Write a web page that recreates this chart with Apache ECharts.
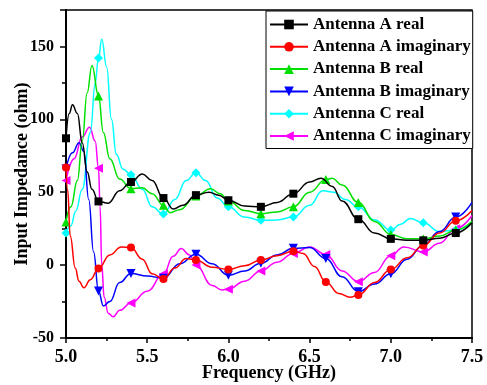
<!DOCTYPE html>
<html>
<head>
<meta charset="utf-8">
<script src="https://cdn.jsdelivr.net/npm/echarts@6/dist/echarts.min.js"></script>
<style>
  html, body { margin: 0; padding: 0; background: #fff; }
  #chart { width: 487px; height: 385px; }
</style>
</head>
<body>
<div id="chart"></div>
<script>
// marker positions (GHz)
const markerFreqs = [5.0, 5.2, 5.4, 5.6, 5.8, 6.0, 6.2, 6.4, 6.6, 6.8, 7.0, 7.2, 7.4];
const xTicks = [5.0, 5.5, 6.0, 6.5, 7.0, 7.5];
const yTicks = [-50, 0, 50, 100, 150];

// [freq, ohm]
const aReal = [[5.0,87],[5.02,104],[5.04,110],[5.07,104],[5.1,84],[5.13,64],[5.16,52],[5.2,43.7],[5.26,42.5],[5.33,51],[5.4,57],[5.47,62.5],[5.53,58],[5.6,46],[5.66,38.5],[5.72,41],[5.8,48],[5.88,50],[5.94,48],[6.0,44.5],[6.1,40.5],[6.2,40],[6.3,43],[6.4,49],[6.5,57],[6.57,59.5],[6.64,54],[6.7,44],[6.8,31.5],[6.9,22],[7.0,18],[7.1,17],[7.2,17],[7.3,18.5],[7.4,22],[7.5,29]];
const aImag = [[5.0,67],[5.01,52],[5.026,20],[5.057,-2],[5.08,-11],[5.11,-15.5],[5.15,-10],[5.2,-2.3],[5.27,7],[5.34,12.5],[5.4,12],[5.47,4],[5.53,-6],[5.6,-9.5],[5.67,-2],[5.74,4.5],[5.8,3.5],[5.9,-1.5],[6.0,-3],[6.1,-0.5],[6.2,3.5],[6.3,6.5],[6.4,9.5],[6.46,8],[6.53,-1],[6.6,-11.5],[6.68,-19.5],[6.75,-22],[6.8,-20.5],[6.9,-12],[7.0,-3],[7.1,5],[7.2,13.5],[7.3,22],[7.4,30.5],[7.5,37.5]];
const bReal = [[5.0,29.6],[5.03,40],[5.07,58],[5.1,85],[5.13,118],[5.16,137],[5.2,116],[5.23,91],[5.27,73],[5.33,59],[5.4,52.4],[5.47,53],[5.53,49],[5.6,41],[5.64,36],[5.7,38],[5.8,47.4],[5.89,52.4],[5.95,49],[6.0,44],[6.1,37.5],[6.2,35.3],[6.3,36.5],[6.4,40],[6.5,50],[6.6,58.7],[6.64,59.5],[6.7,55],[6.8,43],[6.9,30],[7.0,21],[7.1,18],[7.2,18],[7.3,20],[7.4,24],[7.5,30]];
const bImag = [[5.0,66],[5.04,77],[5.08,84],[5.11,78],[5.14,45],[5.17,9],[5.2,-17.7],[5.23,-28],[5.27,-25],[5.33,-12],[5.4,-5.7],[5.5,-7.5],[5.6,-9],[5.7,1],[5.8,7.5],[5.9,1],[6.0,-7],[6.1,-4],[6.2,1.2],[6.3,7],[6.4,11.5],[6.5,12],[6.6,4.5],[6.7,-8],[6.8,-18.2],[6.9,-13],[7.0,-6],[7.1,4],[7.2,13.7],[7.3,23],[7.4,33],[7.5,43]];
const cReal = [[5.0,22],[5.03,27],[5.06,37],[5.1,52],[5.15,91],[5.18,125],[5.2,142],[5.22,155],[5.25,136],[5.28,100],[5.31,76],[5.35,66],[5.4,62],[5.47,52],[5.53,40],[5.6,35],[5.67,45],[5.74,58],[5.8,63.3],[5.86,58],[5.93,46],[6.0,40],[6.1,33],[6.2,30.7],[6.3,31],[6.4,33],[6.5,41],[6.58,51],[6.65,50],[6.72,45],[6.8,40],[6.9,31],[7.0,24],[7.06,28],[7.12,32],[7.2,29],[7.3,23],[7.4,24],[7.5,29.6]];
const cImag = [[5.0,58],[5.05,73],[5.1,88],[5.145,94.5],[5.18,85],[5.2,66.5],[5.21,40],[5.22,0],[5.235,-22],[5.26,-33],[5.29,-35.5],[5.33,-31],[5.4,-26],[5.5,-18],[5.6,-6],[5.66,6],[5.71,11.4],[5.76,7],[5.8,0],[5.9,-14],[5.96,-17],[6.0,-16.5],[6.1,-11],[6.2,-4],[6.3,2],[6.4,8],[6.5,12.5],[6.6,7.3],[6.7,-4],[6.8,-11.4],[6.9,-5],[7.0,6.5],[7.08,12.5],[7.2,9],[7.3,15],[7.4,25],[7.5,34]];

const names = ['Antenna A real', 'Antenna A imaginary', 'Antenna B real', 'Antenna B imaginary', 'Antenna C real', 'Antenna C imaginary'];
const colors = ['#000000', '#ff0000', '#00e000', '#0000ff', '#00ffff', '#ff00ff'];
const symbols = ['rect', 'circle', 'triangle', 'triangle', 'diamond', 'triangle'];
const rotates = [0, 0, 0, 180, 0, 90];
const sizes = [8, 8, 9, 9, 9, 9];
const curves = [aReal, aImag, bReal, bImag, cReal, cImag];

function isMarker(f) {
  return markerFreqs.some(m => Math.abs(m - f) < 1e-6);
}

const font = 'Liberation Serif';

const series = curves.map((pts, i) => ({
  name: names[i],
  type: 'line',
  smooth: 0.45,
  smoothMonotone: 'x',
  symbol: symbols[i],
  symbolSize: sizes[i],
  symbolRotate: rotates[i],
  showAllSymbol: true,
  color: colors[i],
  lineStyle: { width: 1.5, color: colors[i] },
  itemStyle: { color: colors[i] },
  emphasis: { disabled: true },
  z: 10 - i,
  data: pts.map(p => isMarker(p[0]) ? { value: p } : { value: p, symbol: 'none' })
}));

const chart = echarts.init(document.getElementById('chart'), null, { renderer: 'canvas' });
chart.setOption({
  animation: false,
  backgroundColor: '#fff',
  grid: {
    left: 66, right: 15, top: 10, bottom: 47,
    outerBoundsMode: 'none',
    containLabel: false,
    show: true, borderColor: '#000', borderWidth: 1.5
  },
  legend: {
    orient: 'vertical',
    left: 266, top: 11,
    padding: [5, 2, 4, 3],
    itemWidth: 38, itemHeight: 12, itemGap: 5.3,
    borderColor: '#000', borderWidth: 1,
    backgroundColor: '#fff',
    data: names,
    textStyle: { fontFamily: font, fontWeight: 'bold', fontSize: 17, color: '#000', lineHeight: 16 }
  },
  xAxis: {
    type: 'value',
    min: 5, max: 7.5, interval: 0.5,
    name: 'Frequency (GHz)',
    nameLocation: 'middle',
    nameGap: 26,
    nameMoveOverlap: false,
    nameTextStyle: { fontFamily: font, fontWeight: 'bold', fontSize: 18, color: '#000' },
    axisLine: { onZero: false, lineStyle: { color: '#000', width: 2 } },
    axisTick: { inside: false, length: 5, lineStyle: { color: '#000', width: 1.5 } },
    minorTick: { show: true, splitNumber: 2, length: 3, lineStyle: { color: '#000', width: 1.5 } },
    splitLine: { show: false },
    axisLabel: {
      margin: 10,
      fontFamily: font, fontWeight: 'bold', fontSize: 18, color: '#000',
      formatter: v => xTicks.some(t => Math.abs(t - v) < 1e-6) ? v.toFixed(1) : ''
    }
  },
  yAxis: {
    type: 'value',
    min: -50, max: 175, interval: 50,
    name: 'Input Impedance (ohm)',
    nameLocation: 'middle',
    nameGap: 35,
    nameMoveOverlap: false,
    nameTextStyle: { fontFamily: font, fontWeight: 'bold', fontSize: 18, color: '#000' },
    axisLine: { show: true, onZero: false, lineStyle: { color: '#000', width: 2 } },
    axisTick: { show: true, inside: false, length: 6, lineStyle: { color: '#000', width: 1.5 } },
    minorTick: { show: true, splitNumber: 2, length: 4, lineStyle: { color: '#000', width: 1.5 } },
    splitLine: { show: false },
    axisLabel: {
      margin: 12,
      fontFamily: font, fontWeight: 'bold', fontSize: 16, color: '#000',
      formatter: v => yTicks.indexOf(v) >= 0 ? String(v) : ''
    }
  },
  series: series
});
</script>
</body>
</html>
